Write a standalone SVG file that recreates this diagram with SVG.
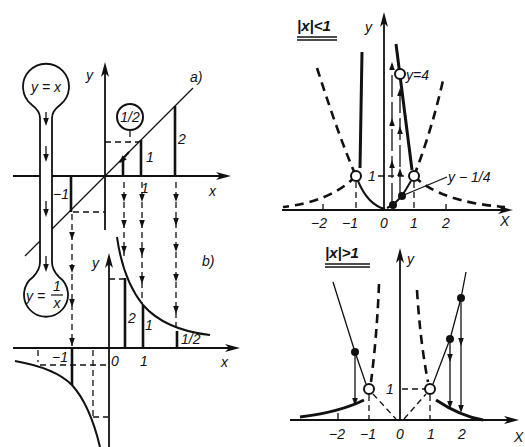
<svg xmlns="http://www.w3.org/2000/svg" width="525" height="447" viewBox="0 0 525 447">
<style>
.ax{stroke:#111;stroke-width:1.8;fill:none}
.th{stroke:#111;stroke-width:1.3;fill:none}
.bar{stroke:#111;stroke-width:2.6;fill:none}
.ds{stroke:#111;stroke-width:1.3;fill:none;stroke-dasharray:6,4}
.dk{stroke:#111;stroke-width:2.6;fill:none;stroke-dasharray:9,6}
.sol{stroke:#111;stroke-width:2;fill:none}
.thk{stroke:#111;stroke-width:3;fill:none}
.oc{fill:#fff;stroke:#111;stroke-width:2}
.fd{fill:#111}
text{font-family:"Liberation Sans",Arial,sans-serif;font-style:italic;fill:#111;font-size:14px}
.ttl{font-weight:bold;font-size:15px}
</style>
<defs>
<path id="ad" d="M-2.8,-8 L2.8,-8 L0,0 Z" fill="#111"/>
<path id="au" d="M-2.8,8 L2.8,8 L0,0 Z" fill="#111"/>
<path id="ar" d="M0,0 L-15,-4 L-11,0 L-15,4 Z" fill="#111"/>
<path id="aup" d="M0,0 L-4,15 L0,11 L4,15 Z" fill="#111"/>
</defs>

<!-- Panel a -->
<g id="panel-a">
<line class="ax" x1="13" y1="176" x2="226" y2="176"/>
<use href="#ar" x="231" y="176"/>
<line class="ax" x1="105" y1="230" x2="105" y2="68"/>
<use href="#aup" x="105" y="62"/>
<text x="86" y="80">y</text>
<text x="209" y="196">x</text>
<text x="190" y="82">a)</text>
<line class="th" x1="25" y1="256" x2="193" y2="88"/>
<line class="bar" x1="123" y1="176" x2="123" y2="158"/>
<line class="bar" x1="141" y1="176" x2="141" y2="140"/>
<line class="bar" x1="175" y1="176" x2="175" y2="106"/>
<line class="bar" x1="71" y1="176" x2="71" y2="212"/>
<line class="ds" x1="105" y1="142" x2="139" y2="142"/>
<line class="ds" x1="73" y1="212" x2="105" y2="212"/>
<text x="146" y="162">1</text>
<text x="178" y="144">2</text>
<text x="141" y="193">1</text>
<text x="53" y="199">−1</text>
<path d="M120,162 L129,152" class="sol"/>
<path d="M0,0 L-3,-8 L3,-8 Z" fill="#111" transform="translate(119,163) rotate(45)"/>
</g>

<g id="node-half">
<circle cx="130" cy="117" r="13" class="oc" stroke-width="1.8"/>
<text x="130" y="122" text-anchor="middle" font-size="12">1/2</text>
<line class="ds" x1="130" y1="131" x2="130" y2="142"/>
</g>

<!-- Tube with bulbs -->
<g id="node-tube">
<path d="M40,118 Q40,111 32,105 A23,23 0 1 1 60,105 Q52,111 52,118 L52,262 Q52,270 59,277 A22,22 0 1 1 33,277 Q40,270 40,262 Z" fill="#fff" stroke="#111" stroke-width="1.8"/>
<text x="46" y="92" text-anchor="middle" font-size="15">y = x</text>
<text x="26" y="301" font-size="15">y =</text>
<text x="57" y="291" text-anchor="middle" font-size="12">1</text>
<line x1="51" y1="295" x2="63" y2="295" stroke="#111" stroke-width="1.2"/>
<text x="57" y="308" text-anchor="middle" font-size="13">x</text>
<line class="th" x1="46" y1="112" x2="46" y2="122"/><use href="#ad" x="46" y="126"/>
<line class="th" x1="46" y1="146" x2="46" y2="156"/><use href="#ad" x="46" y="162"/>
<line class="th" x1="46" y1="201" x2="46" y2="211"/><use href="#ad" x="46" y="217"/>
<line class="th" x1="46" y1="256" x2="46" y2="266"/><use href="#ad" x="46" y="272"/>
</g>

<!-- Connectors between a and b -->
<g id="connectors">
<line class="ds" x1="72" y1="214" x2="72" y2="346"/>
<use href="#ad" x="72" y="240"/><use href="#ad" x="72" y="273"/><use href="#ad" x="72" y="307"/><use href="#ad" x="72" y="346"/>
<line class="ds" x1="124" y1="182" x2="124" y2="256"/>
<use href="#ad" x="124" y="202"/><use href="#ad" x="124" y="228"/><use href="#ad" x="124" y="254"/>
<line class="ds" x1="142" y1="182" x2="142" y2="303"/>
<use href="#ad" x="142" y="202"/><use href="#ad" x="142" y="228"/><use href="#ad" x="142" y="256"/><use href="#ad" x="142" y="284"/>
<line class="ds" x1="176" y1="182" x2="176" y2="328"/>
<use href="#ad" x="176" y="202"/><use href="#ad" x="176" y="226"/><use href="#ad" x="176" y="252"/><use href="#ad" x="176" y="282"/><use href="#ad" x="176" y="314"/>
</g>

<!-- Panel b -->
<g id="panel-b">
<line class="ax" x1="13" y1="348" x2="236" y2="348"/>
<use href="#ar" x="240" y="348"/>
<line class="ax" x1="109" y1="447" x2="109" y2="259"/>
<use href="#aup" x="109" y="253"/>
<text x="92" y="268">y</text>
<text x="221" y="367">x</text>
<text x="111" y="366">0</text>
<text x="140" y="366">1</text>
<text x="52" y="362">−1</text>
<text x="202" y="266">b)</text>
<path class="sol" d="M117,237 Q123,280 143,305 Q165,330 210,335"/>
<line class="bar" x1="125" y1="348" x2="125" y2="278"/>
<line class="bar" x1="143" y1="348" x2="143" y2="305"/>
<line class="bar" x1="177" y1="348" x2="177" y2="331"/>
<line class="bar" x1="72" y1="348" x2="72" y2="385"/>
<line class="ds" x1="109" y1="279" x2="124" y2="279"/>
<text x="128" y="323">2</text>
<text x="145" y="330">1</text>
<text x="181" y="344" font-size="12">1/2</text>
<path class="sol" d="M15,361 Q55,368 72,385 Q90,405 100,447"/>
<line class="ds" x1="38" y1="350" x2="38" y2="362"/>
<line class="ds" x1="40" y1="365" x2="108" y2="365"/>
<line class="ds" x1="93" y1="350" x2="93" y2="417"/>
<line class="ds" x1="93" y1="417" x2="108" y2="417"/>
</g>

<!-- Top right panel -->
<g id="panel-lt1">
<line class="ax" x1="282" y1="210" x2="508" y2="210"/>
<use href="#ar" x="513" y="210"/>
<line class="ax" x1="384" y1="211" x2="384" y2="18"/>
<use href="#aup" x="384" y="12"/>
<text x="297" y="31" class="ttl">|x|&lt;1</text>
<line x1="297" y1="37" x2="337" y2="37" stroke="#111" stroke-width="1.3"/>
<line x1="297" y1="40" x2="337" y2="40" stroke="#111" stroke-width="1.3"/>
<text x="365" y="32" font-size="15">y</text>
<text x="311" y="228">−2</text>
<text x="342" y="228">−1</text>
<text x="380" y="228">0</text>
<text x="410" y="228">1</text>
<text x="442" y="228">2</text>
<text x="500" y="226">X</text>
<line class="th" x1="323" y1="204" x2="323" y2="210"/>
<line class="th" x1="446" y1="204" x2="446" y2="210"/>
<path class="dk" d="M317,68 Q340,140 356,176"/>
<path class="dk" d="M414,176 Q432,130 444,76"/>
<path class="dk" d="M356,176 Q330,202 283,207"/>
<path class="dk" d="M414,176 Q440,202 505,207"/>
<line class="ds" x1="356" y1="182" x2="356" y2="210"/>
<line class="ds" x1="414" y1="182" x2="414" y2="210"/>
<line class="ds" x1="378" y1="176" x2="408" y2="176"/>
<text x="368" y="181" font-size="12">1</text>
<path class="thk" d="M362,52 L360,168"/>
<path class="thk" stroke-width="2.6" d="M396,44 L412,170"/>
<path class="sol" d="M358,181 Q368,205 385,209"/>
<path class="sol" d="M387,208 L393,205 L402,196 L411,181"/>
<line class="th" x1="404" y1="195" x2="447" y2="177"/>
<line x1="392" y1="205" x2="392" y2="64" stroke="#111" stroke-width="1.3" stroke-dasharray="22,5"/>
<use href="#au" x="392" y="62"/><use href="#au" x="392" y="118"/><use href="#au" x="392" y="160"/>
<line x1="400" y1="194" x2="400" y2="90" stroke="#111" stroke-width="1.3" stroke-dasharray="22,5"/>
<use href="#au" x="400" y="88"/><use href="#au" x="400" y="126"/><use href="#au" x="400" y="168"/>
<circle cx="356" cy="176" r="5" class="oc"/>
<circle cx="414" cy="176" r="5" class="oc"/>
<circle cx="400" cy="74" r="5" class="oc"/>
<circle cx="393" cy="205" r="4" class="fd"/>
<circle cx="402" cy="196" r="4" class="fd"/>
<text x="406" y="80" font-size="15">y=4</text>
<text x="448" y="182" font-size="15">y − 1/4</text>
</g>

<!-- Bottom right panel -->
<g id="panel-gt1">
<line class="ax" x1="290" y1="420" x2="514" y2="420"/>
<use href="#ar" x="519" y="420"/>
<line class="ax" x1="400" y1="421" x2="400" y2="254"/>
<use href="#aup" x="400" y="248"/>
<text x="325" y="258" class="ttl">|x|&gt;1</text>
<line x1="325" y1="264" x2="370" y2="264" stroke="#111" stroke-width="1.3"/>
<line x1="325" y1="267" x2="370" y2="267" stroke="#111" stroke-width="1.3"/>
<text x="407" y="264" font-size="15">y</text>
<text x="329" y="439">−2</text>
<text x="360" y="439">−1</text>
<text x="396" y="439">0</text>
<text x="427" y="439">1</text>
<text x="458" y="439">2</text>
<text x="514" y="442">X</text>
<line class="th" x1="338" y1="413" x2="338" y2="420"/>
<path class="dk" d="M379,284 Q377,335 371,382"/>
<path class="dk" d="M417,290 Q420,340 428,382"/>
<line class="ds" x1="373" y1="394" x2="396" y2="419"/>
<line class="ds" x1="404" y1="419" x2="426" y2="394"/>
<line class="ds" x1="369" y1="395" x2="369" y2="420"/>
<line class="ds" x1="430" y1="395" x2="430" y2="420"/>
<line class="ds" x1="402" y1="389" x2="425" y2="389"/>
<text x="386" y="394" font-size="12">1</text>
<path class="th" stroke-width="1.6" d="M333,282 L355,352 L366,384"/>
<path class="th" stroke-width="1.6" d="M433,384 L450,339 L461,298 L466,272"/>
<path class="thk" d="M300,417 Q340,412 364,400"/>
<path class="thk" d="M436,400 Q460,416 483,420"/>
<line class="th" x1="355" y1="352" x2="355" y2="399"/><use href="#ad" x="355" y="406"/>
<line class="th" x1="450" y1="339" x2="450" y2="402"/><use href="#ad" x="450" y="362"/><use href="#ad" x="450" y="409"/>
<line class="th" x1="461" y1="298" x2="461" y2="406"/><use href="#ad" x="461" y="346"/><use href="#ad" x="461" y="413"/>
<circle cx="369" cy="389" r="5" class="oc"/>
<circle cx="430" cy="389" r="5" class="oc"/>
<circle cx="355" cy="352" r="4" class="fd"/>
<circle cx="450" cy="339" r="4" class="fd"/>
<circle cx="461" cy="298" r="4" class="fd"/>
</g>
</svg>
